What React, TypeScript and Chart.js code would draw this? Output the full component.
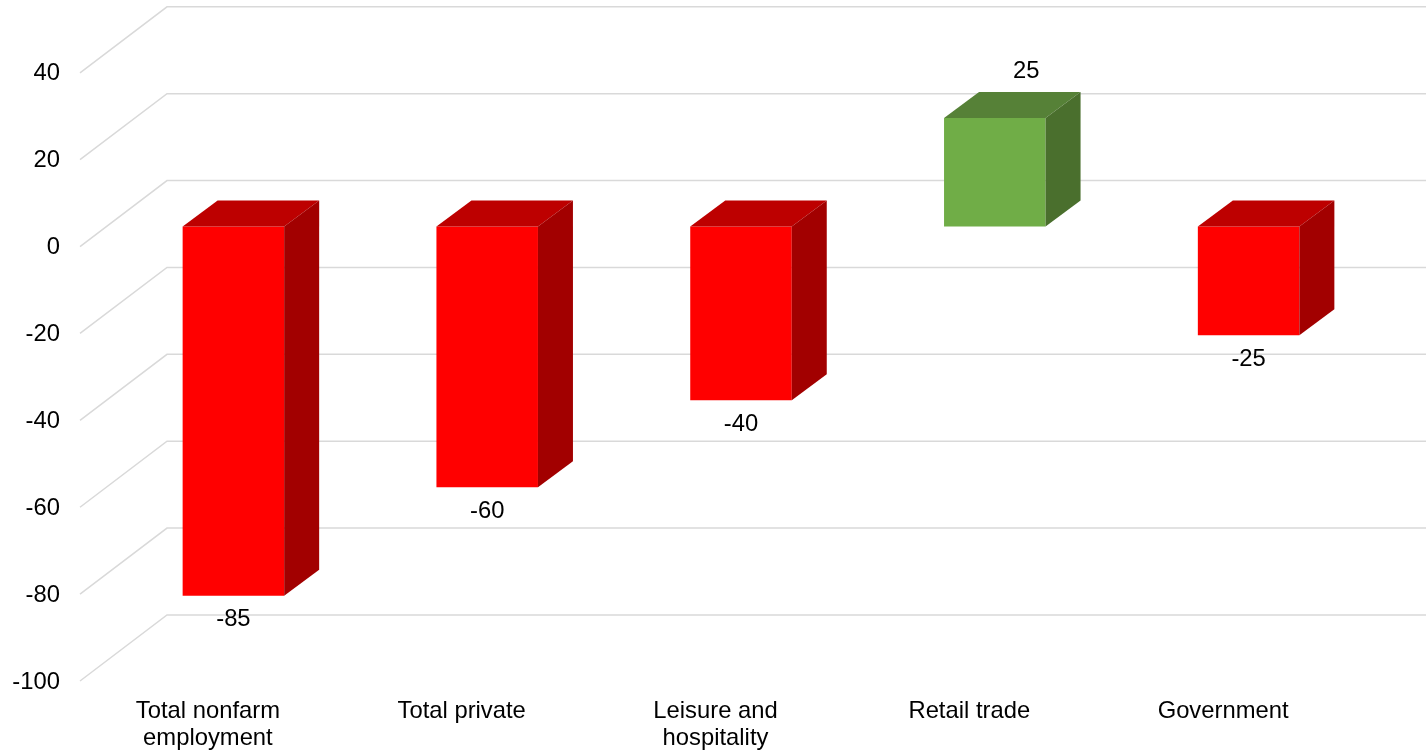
import React, { useEffect, useRef } from "react";
import { Chart, registerables } from "chart.js";

Chart.register(...registerables);

const categories: string[][] = [
  ["Total nonfarm", "employment"],
  ["Total private"],
  ["Leisure and", "hospitality"],
  ["Retail trade"],
  ["Government"],
];
const changeValues: number[] = [-85, -60, -40, 25, -25];
const frontColors: string[] = ["#FF0000", "#FF0000", "#FF0000", "#70AD47", "#FF0000"];
const topColors: string[] = ["#BD0000", "#BD0000", "#BD0000", "#568137", "#BD0000"];
const sideColors: string[] = ["#A20000", "#A20000", "#A20000", "#4A6F2D", "#A20000"];

const FONT = '"Liberation Sans", Arial, sans-serif';
const FONT_SIZE = 23.8;
const WALL_FRONT = { dx: -26.5, dy: 20 };
const WALL_BACK = { dx: 60.5, dy: -46 };
const BAR_DEPTH = { dx: 35, dy: -26 };

const poly = (ctx: CanvasRenderingContext2D, pts: number[][], fill: string) => {
  ctx.beginPath();
  pts.forEach(([x, y], i) => (i ? ctx.lineTo(x, y) : ctx.moveTo(x, y)));
  ctx.closePath();
  ctx.fillStyle = fill;
  ctx.fill();
};

const wallPlugin = {
  id: "wall3d",
  beforeDatasetsDraw(chart: any) {
    const { ctx, chartArea, scales } = chart;
    const y = scales.y;
    ctx.save();
    ctx.strokeStyle = "#D9D9D9";
    ctx.lineWidth = 1.5;
    y.ticks.forEach((_t: any, i: number) => {
      const py = y.getPixelForTick(i);
      ctx.beginPath();
      ctx.moveTo(chartArea.left + WALL_FRONT.dx, py + WALL_FRONT.dy);
      ctx.lineTo(chartArea.left + WALL_BACK.dx, py + WALL_BACK.dy);
      ctx.lineTo(chart.width, py + WALL_BACK.dy);
      ctx.stroke();
    });
    ctx.restore();
  },
};

const boxPlugin = {
  id: "box3d",
  afterDatasetsDraw(chart: any) {
    const { ctx } = chart;
    const meta = chart.getDatasetMeta(0);
    ctx.save();
    meta.data.forEach((bar: any, i: number) => {
      const { x, y, base, width } = bar.getProps(["x", "y", "base", "width"], true);
      const l = x - width / 2;
      const r = x + width / 2;
      const top = Math.min(y, base);
      const bottom = Math.max(y, base);
      const { dx, dy } = BAR_DEPTH;
      poly(ctx, [[l, top], [r, top], [r + dx, top + dy], [l + dx, top + dy]], topColors[i]);
      poly(ctx, [[r, top], [r + dx, top + dy], [r + dx, bottom + dy], [r, bottom]], sideColors[i]);
      const v = changeValues[i];
      ctx.fillStyle = "#000000";
      ctx.font = `${FONT_SIZE}px ${FONT}`;
      ctx.textAlign = "center";
      ctx.textBaseline = "middle";
      if (v < 0) ctx.fillText(String(v), x, bottom + 24);
      else ctx.fillText(String(v), x + 31.5, top + dy - 21);
    });
    ctx.restore();
  },
};

export default function App() {
  const ref = useRef<HTMLCanvasElement>(null);
  useEffect(() => {
    if (!ref.current) return;
    const chart = new Chart(ref.current, {
      type: "bar",
      data: {
        labels: categories,
        datasets: [
          {
            label: "Change",
            data: changeValues,
            backgroundColor: frontColors,
            borderWidth: 0,
            barPercentage: 1,
            categoryPercentage: 0.4,
          },
        ],
      },
      options: {
        responsive: false,
        animation: false,
        layout: { autoPadding: false, padding: { top: 44, right: 50.5, left: 0, bottom: 0 } },
        plugins: { legend: { display: false }, tooltip: { enabled: false }, title: { display: false } },
        scales: {
          x: {
            type: "category",
            offset: true,
            grid: { display: false },
            border: { display: false },
            afterFit: (s: any) => {
              s.height = 90;
            },
            ticks: {
              autoSkip: false,
              maxRotation: 0,
              minRotation: 0,
              labelOffset: -25.5,
              padding: 29,
              color: "#000000",
              font: { family: FONT, size: FONT_SIZE, lineHeight: 27 / FONT_SIZE },
            },
          },
          y: {
            type: "linear",
            min: -100,
            max: 40,
            grid: { display: false },
            border: { display: false },
            afterFit: (s: any) => {
              s.width = 106.5;
            },
            ticks: {
              stepSize: 20,
              labelOffset: 21,
              padding: 38.5,
              color: "#000000",
              font: { family: FONT, size: FONT_SIZE },
            },
          },
        },
      },
      plugins: [wallPlugin, boxPlugin],
    } as any);
    return () => chart.destroy();
  }, []);
  return (
    <div style={{ position: "absolute", left: 0, top: 0, width: 1426, height: 751, background: "#FFFFFF" }}>
      <canvas ref={ref} width={1426} height={751} style={{ display: "block" }} />
    </div>
  );
}
